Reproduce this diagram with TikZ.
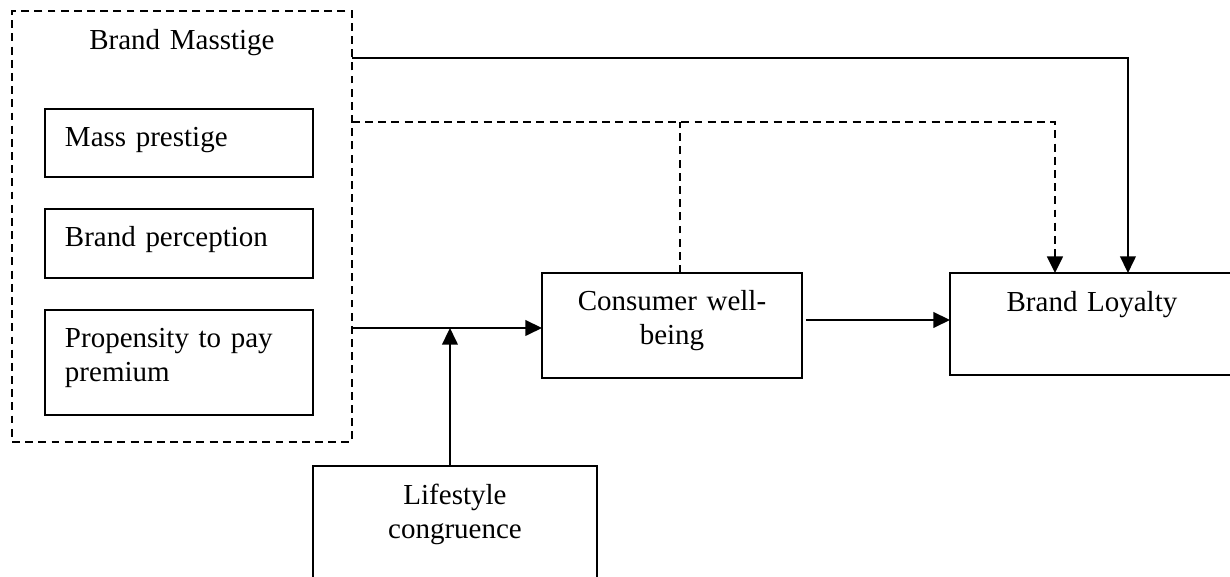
\documentclass[tikz,border=0pt]{standalone}
\usepackage{fontspec}
\setmainfont{Liberation Serif}
\usepackage{tikz}
\usetikzlibrary{arrows.meta, positioning}

\begin{document}
\begin{tikzpicture}[
  x=0.02cm, y=-0.02cm,
  every node/.style={font=\fontsize{16.5}{19}\selectfont},
  box/.style={rectangle, draw, line width=1pt, outer sep=0pt, inner ysep=0pt},
  leftbox/.style={box, inner xsep=0.4cm, text width=4.56cm, align=left},
  midbox/.style={box, inner xsep=0pt, align=center},
  dashbox/.style={box, line width=1.3pt, dash pattern=on 4.5pt off 3pt},
  arr/.style={-{Triangle[length=9.5pt, width=9pt]}, line width=0.8pt},
  dashline/.style={line width=1.3pt, dash pattern=on 4.5pt off 3pt},
  dasharr/.style={dashline, -{Triangle[length=9.5pt, width=9pt]}},
]
\useasboundingbox (0,0) rectangle (1230,577);
\clip (0,0) rectangle (1230,577);

%% Brand masstige group
\node[dashbox, midbox, anchor=north west, text width=6.8cm, text height=0.78cm, text depth=7.84cm] (masstige) at (12,11) {Brand Masstige};
\node[leftbox, anchor=north west, text height=0.76cm, text depth=0.6cm] (prestige) at (45,109) {Mass prestige};
\node[leftbox, below=0.64cm of prestige, text height=0.76cm, text depth=0.62cm] (perception) {Brand perception};
\node[leftbox, below=0.64cm of perception, text height=0.76cm, text depth=1.34cm] (premium) {Propensity to pay\\premium};

%% Mediator, moderator, outcome
\node[midbox, anchor=north west, text width=5.2cm, text height=0.76cm, text depth=1.34cm] (wellbeing) at (542,273) {Consumer well-\\being};
\node[midbox, anchor=north west, text width=5.68cm, text height=0.78cm, text depth=1.26cm] (loyalty) at (950,273) {Brand Loyalty};
\node[midbox, anchor=north west, text width=5.68cm, text height=0.78cm, text depth=1.94cm] (lifestyle) at (313,466) {Lifestyle\\congruence};

%% Helper points
\coordinate (solidout) at ([yshift=-0.94cm]masstige.north east);
\coordinate (dashout) at ([yshift=-2.22cm]masstige.north east);
\coordinate (feed) at ([yshift=-0.05cm]wellbeing.west);
\coordinate (lyin) at ([yshift=0.08cm]loyalty.west);
\path ([xshift=0.16cm]wellbeing.north) coordinate (branch);
\path ([xshift=-0.1cm]lifestyle.north) coordinate (lsup);
\path ([xshift=0.08cm]wellbeing.east) coordinate (cwout);

%% Arrows
\draw[arr] (solidout) -| ([xshift=0.72cm]loyalty.north);
\draw[dasharr] (dashout) -| ([xshift=-0.74cm]loyalty.north);
\draw[dashline] (branch) -- (branch |- dashout);
\draw[arr] (masstige.east |- feed) -- (feed);
\draw[arr] (lsup) -- (lsup |- feed);
\draw[arr] (cwout |- lyin) -- (lyin);

\end{tikzpicture}
\end{document}
